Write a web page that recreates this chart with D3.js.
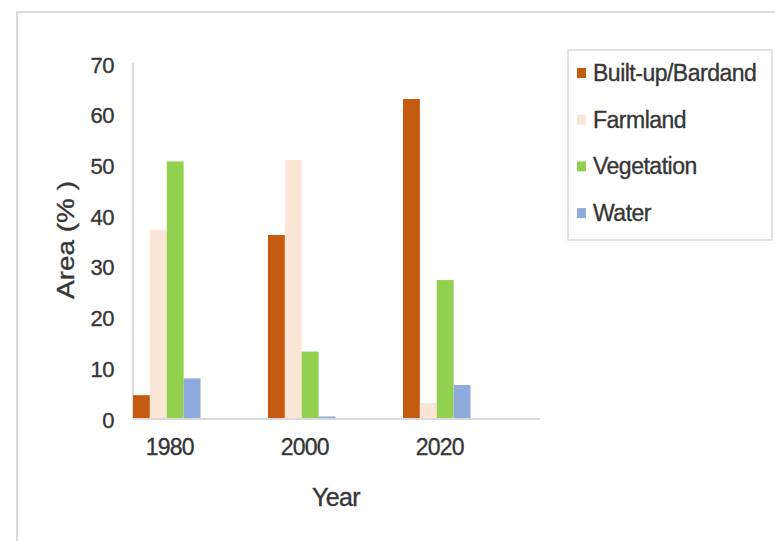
<!DOCTYPE html>
<html>
<head>
<meta charset="utf-8">
<script src="https://cdn.jsdelivr.net/npm/d3@7"></script>
<style>
  html, body { margin: 0; padding: 0; background: #fff; }
  svg { display: block; font-family: "Liberation Sans", Arial, sans-serif; }
  svg text { paint-order: stroke; stroke-width: 0.35px; }
</style>
</head>
<body>
<svg id="chart" width="775" height="541"></svg>
<script>
// Land-cover share by year
const years = ["1980", "2000", "2020"];
const seriesNames = ["Built-up/Bardand", "Farmland", "Vegetation", "Water"];
const builtUp    = [4.5, 36.1, 62.9];
const farmland   = [37.1, 50.9, 3.0];
const vegetation = [50.6, 13.1, 27.2];
const water      = [7.8, 0.3, 6.5];
const yTicks = [0, 10, 20, 30, 40, 50, 60, 70];
const colors = ["#C55A11", "#FBE5D6", "#92D050", "#8FAADC"];

const seriesValues = [builtUp, farmland, vegetation, water];
const rows = years.map((yr, i) => ({
  year: yr,
  values: seriesNames.map((name, s) => ({ name, s, v: seriesValues[s][i] }))
}));

const svg = d3.select("#chart");
const textColor = "#363636";
const gridColor = "#d9d9d9";

// outer frame
svg.append("rect")
  .attr("x", 17).attr("y", 12)
  .attr("width", 800).attr("height", 560)
  .attr("fill", "none").attr("stroke", "#dcdcdc").attr("stroke-width", 2);

const plotLeft = 133, plotRight = 540, plotTop = 63, plotBottom = 418;

const y = d3.scaleLinear().domain([0, 70]).range([plotBottom, plotTop]);

const x0 = d3.scaleBand()
  .domain(years)
  .range([99.25, 504.25])
  .paddingInner(0.5)
  .paddingOuter(0.25);

const x1 = d3.scaleBand()
  .domain(seriesNames)
  .range([0, x0.bandwidth()]);

// value axis line
svg.append("line")
  .attr("x1", plotLeft).attr("x2", plotLeft)
  .attr("y1", plotTop).attr("y2", plotBottom)
  .attr("stroke", gridColor).attr("stroke-width", 2);

// bars
const groups = svg.append("g").selectAll("g")
  .data(rows).join("g")
  .attr("transform", d => `translate(${x0(d.year)},0)`);

groups.selectAll("rect")
  .data(d => d.values).join("rect")
  .attr("x", d => x1(d.name))
  .attr("y", d => y(d.v))
  .attr("width", x1.bandwidth())
  .attr("height", d => y(0) - y(d.v))
  .attr("fill", d => colors[d.s]);

// category axis line
svg.append("line")
  .attr("x1", plotLeft).attr("x2", plotRight)
  .attr("y1", plotBottom + 1).attr("y2", plotBottom + 1)
  .attr("stroke", gridColor).attr("stroke-width", 2);

// y tick labels
const yAxis = d3.axisLeft(y).tickValues(yTicks).tickSize(0).tickPadding(0);
const gy = svg.append("g").attr("transform", "translate(114,2)").call(yAxis);
gy.select(".domain").remove();
gy.selectAll("text")
  .attr("fill", textColor).attr("stroke", textColor)
  .style("font-size", "22px")
  .style("letter-spacing", "-0.5px")
  .style("font-family", "'Liberation Sans', Arial, sans-serif");

// x tick labels
const xAxis = d3.axisBottom(x0).tickSize(0).tickPadding(0);
const gx = svg.append("g").attr("transform", "translate(3,439)").call(xAxis);
gx.select(".domain").remove();
gx.selectAll("text")
  .attr("fill", textColor).attr("stroke", textColor)
  .style("font-size", "23px")
  .style("letter-spacing", "-0.8px")
  .style("font-family", "'Liberation Sans', Arial, sans-serif");

// axis titles
svg.append("text")
  .attr("x", 336).attr("y", 506)
  .attr("text-anchor", "middle")
  .attr("fill", textColor).attr("stroke", textColor)
  .style("font-size", "25px")
  .style("letter-spacing", "-0.6px")
  .text("Year");

svg.append("text")
  .attr("transform", "translate(74,240) rotate(-90)")
  .attr("text-anchor", "middle")
  .attr("fill", textColor).attr("stroke", textColor)
  .attr("textLength", 118)
  .attr("lengthAdjust", "spacingAndGlyphs")
  .style("font-size", "24px")
  .text("Area (% )");

// legend
const legend = svg.append("g");
legend.append("rect")
  .attr("x", 568).attr("y", 50)
  .attr("width", 204).attr("height", 190)
  .attr("fill", "#fff").attr("stroke", gridColor).attr("stroke-width", 1.5);

const items = legend.selectAll("g.item")
  .data(seriesNames).join("g")
  .attr("class", "item")
  .attr("transform", (d, i) => `translate(577,${73 + i * 46.7})`);

items.append("rect")
  .attr("x", 0).attr("y", -5)
  .attr("width", 9).attr("height", 10)
  .attr("fill", (d, i) => colors[i]);

items.append("text")
  .attr("x", 16).attr("y", 8)
  .attr("fill", textColor).attr("stroke", textColor)
  .style("font-size", "23px")
  .style("letter-spacing", "-0.5px")
  .text(d => d);
</script>
</body>
</html>
